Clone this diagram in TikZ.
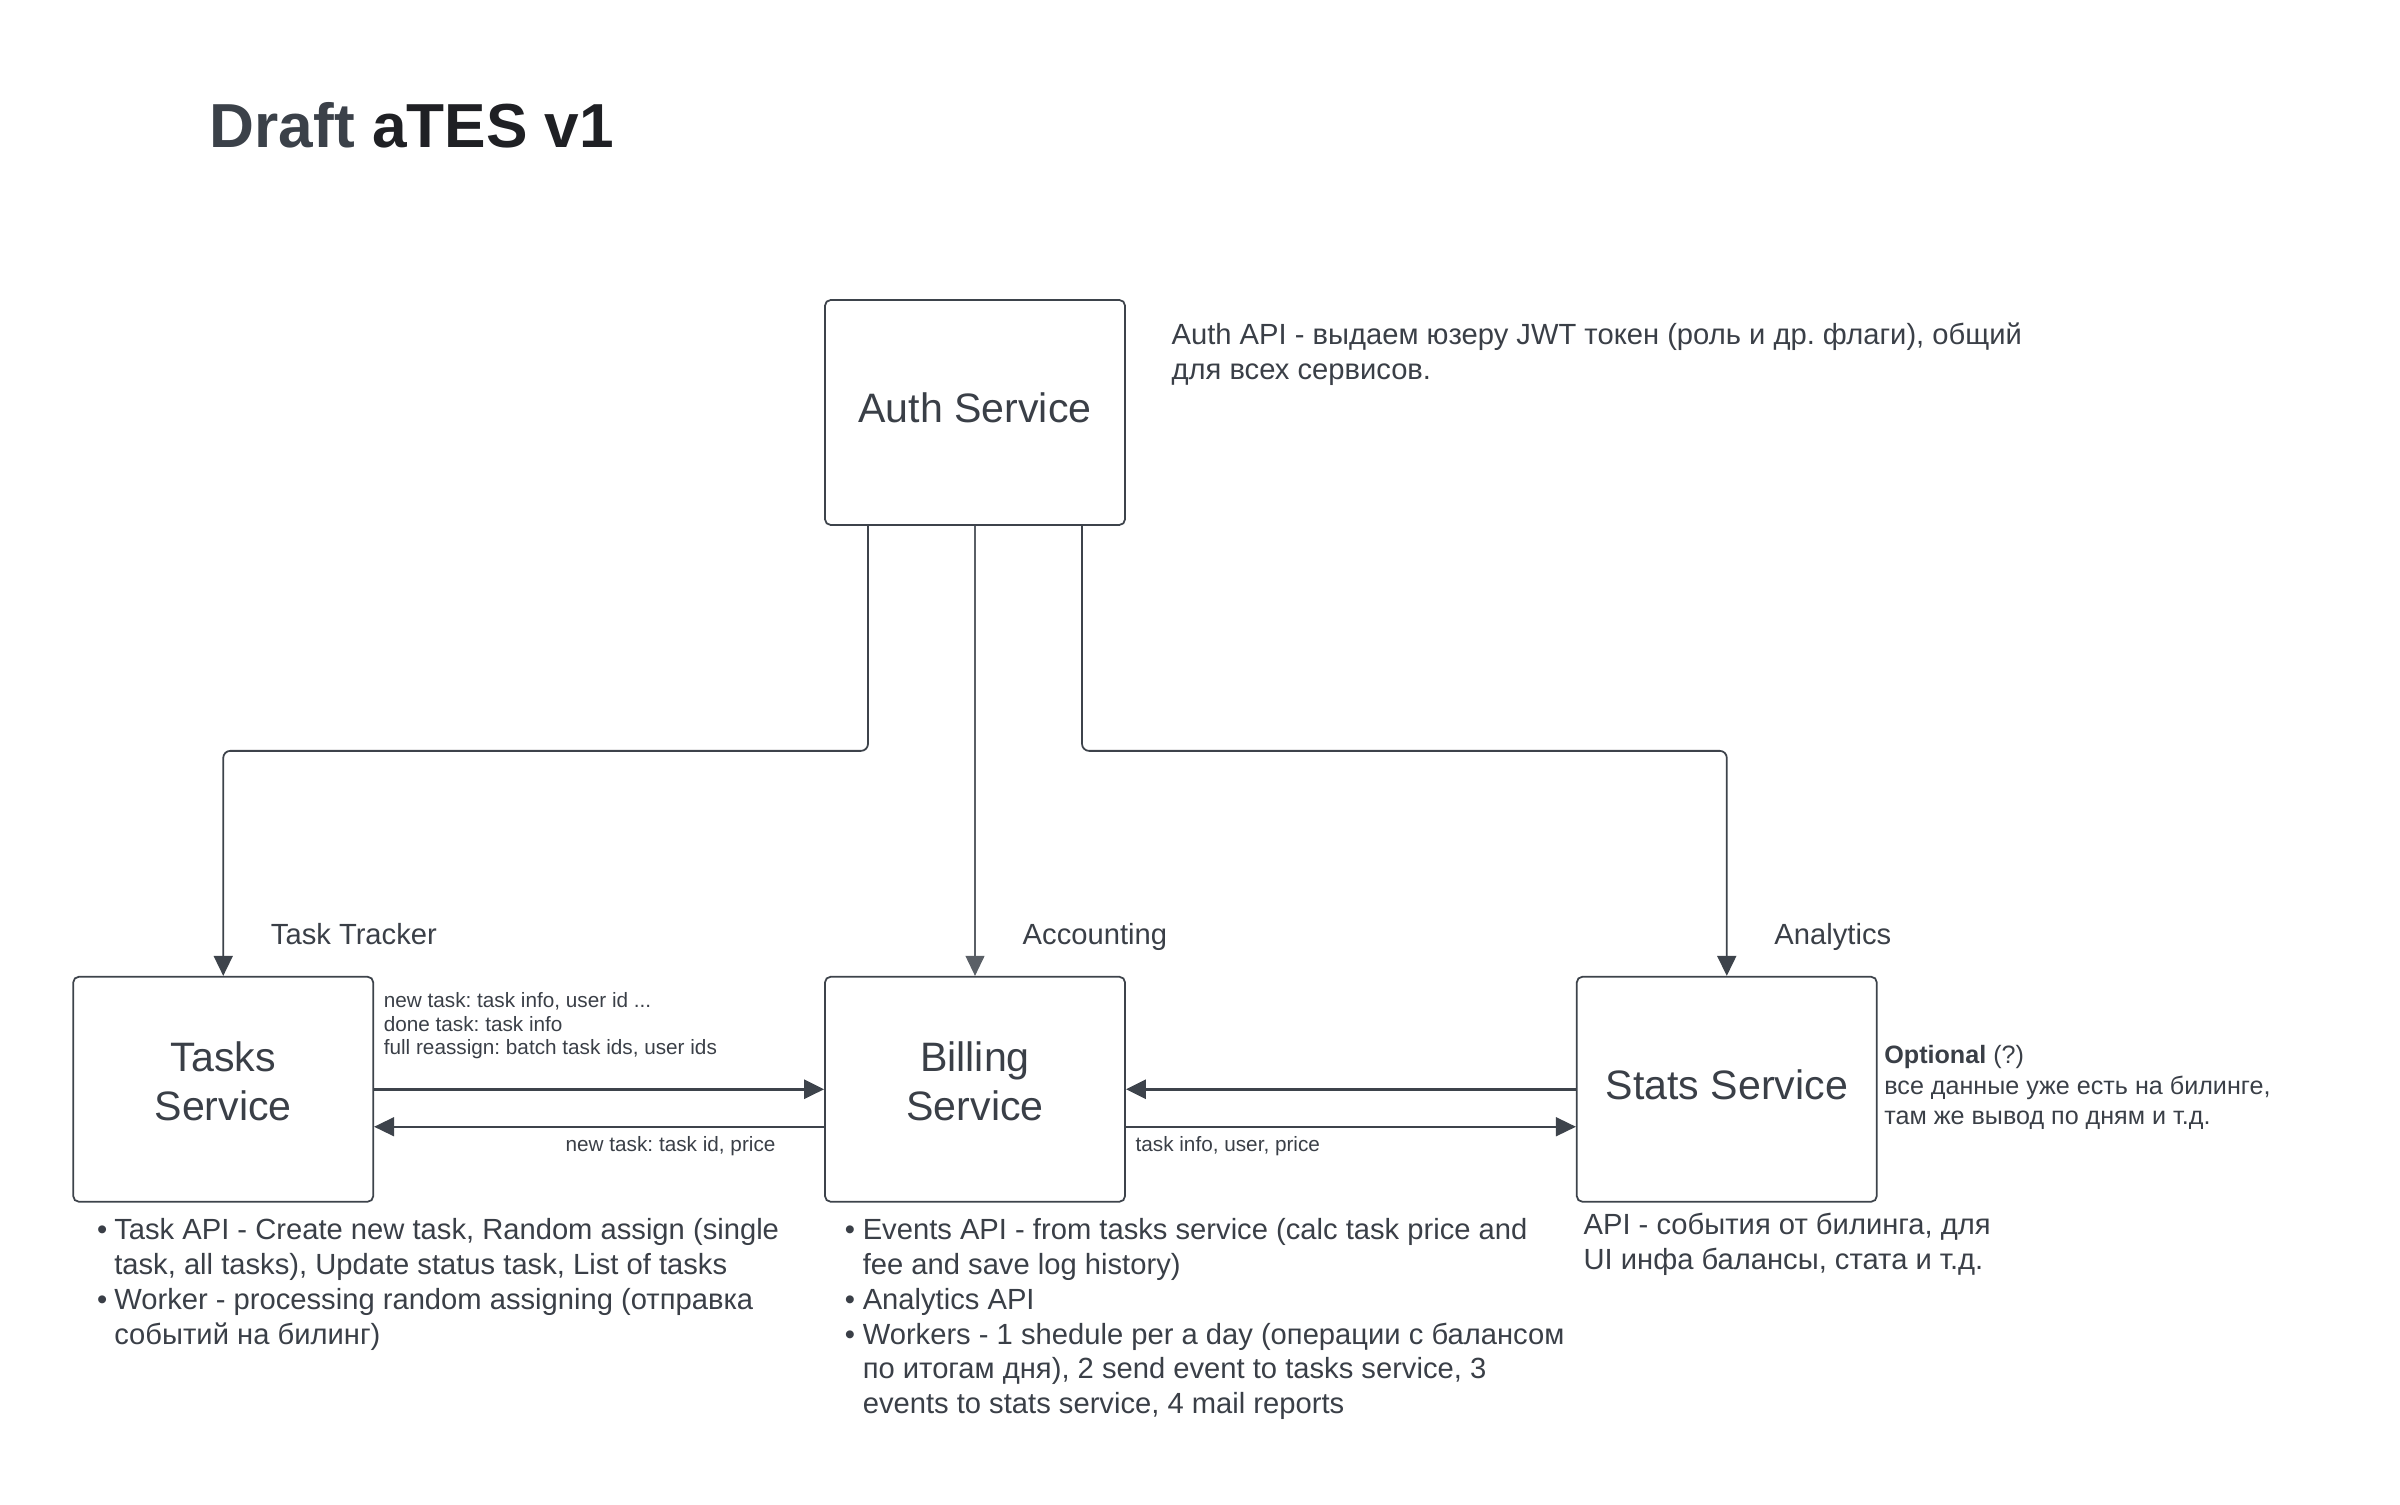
\documentclass[tikz,border=0pt]{standalone}
\usepackage{fontspec}
\setmainfont{Liberation Sans}
\usepackage{tikz}
\usetikzlibrary{arrows.meta,positioning,calc}
\definecolor{ink}{HTML}{3A3F47}
\definecolor{wire}{HTML}{3D434B}
\definecolor{headgray}{HTML}{3B4149}
\definecolor{headdark}{HTML}{1F2024}
\newcommand{\bul}{\textbullet}
\frenchspacing

\begin{document}
\begin{tikzpicture}[
    node distance=4.5cm,
    svc/.style={rectangle, draw=wire, line width=0.5pt, rounded corners=1.6pt, minimum width=3cm, minimum height=2.25cm, align=center, text=ink, text depth=2.5pt, font=\fontsize{11.7}{13.9}\selectfont},
    note/.style={inner sep=0pt, text=ink, align=left, font=\fontsize{8.3}{9.9}\selectfont},
    small/.style={inner sep=0pt, text=ink, align=left, font=\fontsize{5.9}{6.7}\selectfont},
    tip/.style={-{Triangle[length=2mm,width=1.9mm]}},
    bus/.style={draw=wire, line width=0.5pt, rounded corners=2pt, tip},
    flow/.style={draw=wire, line width=0.8pt, tip},
    back/.style={draw=wire, line width=0.45pt, tip}
]
    \useasboundingbox (0,0) rectangle (24,15.04);

    \node[anchor=base west, inner sep=0pt, font=\fontsize{17.7}{21}\selectfont\bfseries] (title) at (2.09,13.56) {\textcolor{headgray}{Draft} \textcolor{headdark}{aTES v1}};

    \node[svc] (auth) at (9.75,10.915) {Auth Service};
    \node[svc, below=of auth, text depth=4.8pt] (billing) {Billing\\Service};
    \node[svc, left=of billing, text depth=4.8pt] (tasks) {Tasks\\Service};
    \node[svc, right=of billing] (stats) {Stats Service};

    \draw[bus] ([xshift=-10.7mm]auth.south) -- ++(0,-2.25) -| (tasks.north);
    \draw[bus] ([xshift=10.7mm]auth.south) -- ++(0,-2.25) -| (stats.north);
    \draw[draw=wire!85, line width=0.3pt, tip] (auth.south) -- (billing.north);

    \draw[flow] (tasks.east) -- (billing.west);
    \draw[back] ([yshift=-3.75mm]billing.west) -- ([yshift=-3.75mm]tasks.east);
    \draw[flow] (stats.west) -- (billing.east);
    \draw[back] ([yshift=-3.75mm]billing.east) -- ([yshift=-3.75mm]stats.west);

    \node[note, anchor=base west] (trackerlbl) at ([shift={(4.7mm,3.1mm)}]tasks.north) {Task Tracker};
    \node[note, anchor=base west] (accountlbl) at ([shift={(4.7mm,3.1mm)}]billing.north) {Accounting};
    \node[note, anchor=base west] (analyticslbl) at ([shift={(4.7mm,3.1mm)}]stats.north) {Analytics};

    \node[note, anchor=base west] (authnote) at ([shift={(4.5mm,-8mm)}]auth.north east) {Auth API - выдаем юзеру JWT токен (роль и др. флаги), общий\\для всех сервисов.};

    \node[small, anchor=base west] (taskevents) at ([shift={(0.9mm,3.45mm)}]tasks.east) {new task: task info, user id ...\\done task: task info\\full reassign: batch task ids, user ids};
    \node[small, anchor=base east] (priceback) at ([shift={(-4.8mm,-6.25mm)}]billing.west) {new task: task id, price};
    \node[small, anchor=base west] (statsevents) at ([shift={(0.9mm,-6.25mm)}]billing.east) {task info, user, price};

    \node[inner sep=0pt, text=ink, align=left, font=\fontsize{7.15}{8.6}\selectfont, anchor=base west] (optnote) at ([shift={(0.6mm,-3.5mm)}]stats.east) {\textbf{Optional} (?)\\все данные уже есть на билинге,\\там же вывод по дням и т.д.};

    \node[note, anchor=base west] (statsapi) at ([shift={(0.7mm,-6.7mm)}]stats.south west) {API - события от билинга, для\\UI инфа балансы, стата и т.д.};

    \node[note, anchor=base west] (tasksapi) at ([shift={(2.4mm,-3.7mm)}]tasks.south west) {\begin{tabular}[t]{@{}l@{\hspace{2pt}}l@{}}
        \bul & Task API - Create new task, Random assign (single\\
             & task, all tasks), Update status task, List of tasks\\
        \bul & Worker - processing random assigning (отправка\\
             & событий на билинг)
    \end{tabular}};
    \node[note, anchor=base west] (billingapi) at ([shift={(2mm,-3.7mm)}]billing.south west) {\begin{tabular}[t]{@{}l@{\hspace{2.2pt}}l@{}}
        \bul & Events API - from tasks service (calc task price and\\
             & fee and save log history)\\
        \bul & Analytics API\\
        \bul & Workers - 1 shedule per a day (операции с балансом\\
             & по итогам дня), 2 send event to tasks service, 3\\
             & events to stats service, 4 mail reports
    \end{tabular}};
\end{tikzpicture}
\end{document}
